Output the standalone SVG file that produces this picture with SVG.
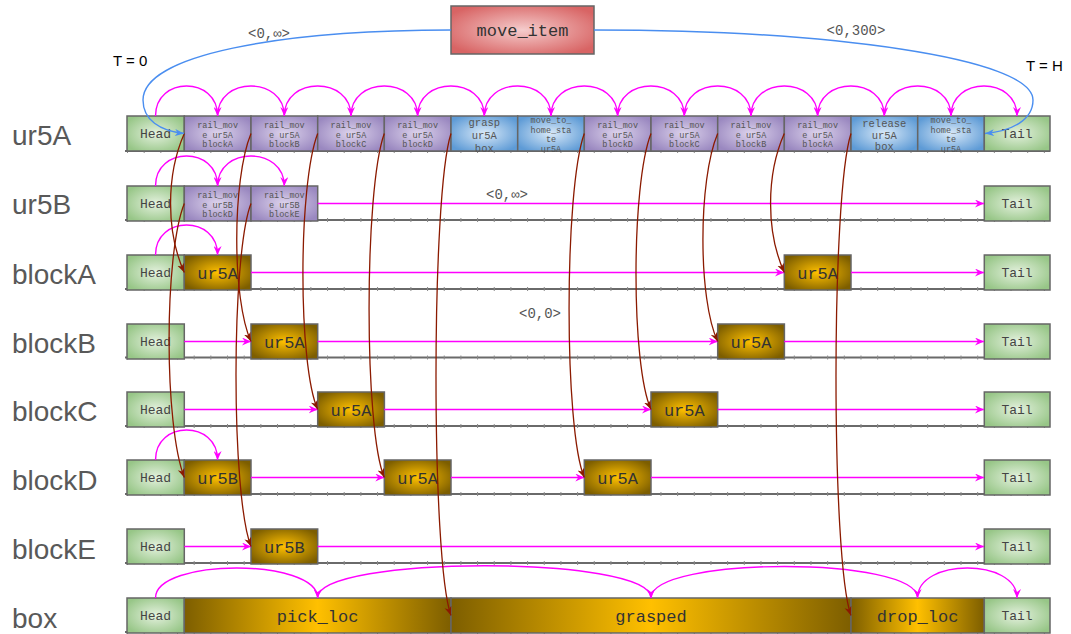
<svg xmlns="http://www.w3.org/2000/svg" width="1071" height="634" viewBox="0 0 1071 634">
<defs>
<radialGradient id="gGreen" cx="0.5" cy="0.5" r="0.6"><stop offset="0" stop-color="#e4f1de"/><stop offset="1" stop-color="#97c687"/></radialGradient>
<radialGradient id="gPurple" cx="0.5" cy="0.5" r="0.6"><stop offset="0" stop-color="#ddd3ec"/><stop offset="1" stop-color="#9a88c0"/></radialGradient>
<radialGradient id="gBlue" cx="0.5" cy="0.5" r="0.6"><stop offset="0" stop-color="#d9e9f8"/><stop offset="1" stop-color="#5e9bd6"/></radialGradient>
<radialGradient id="gGold" cx="0.5" cy="0.5" r="0.6"><stop offset="0" stop-color="#ffc000"/><stop offset="1" stop-color="#7d5e00"/></radialGradient>
<linearGradient id="gGoldH" x1="0" y1="0" x2="1" y2="0"><stop offset="0" stop-color="#7d5e00"/><stop offset="0.5" stop-color="#ffc000"/><stop offset="1" stop-color="#7d5e00"/></linearGradient>
<radialGradient id="gRed" cx="0.5" cy="0.5" r="0.6"><stop offset="0" stop-color="#f5cccc"/><stop offset="1" stop-color="#d86464"/></radialGradient>
<marker id="mM" markerUnits="userSpaceOnUse" markerWidth="10" markerHeight="8" refX="9" refY="4" orient="auto"><path d="M0,0 L9,4 L0,8 L3,4 z" fill="#ff00ff"/></marker>
<marker id="mB" markerUnits="userSpaceOnUse" markerWidth="10" markerHeight="8" refX="9" refY="4" orient="auto"><path d="M0,0.5 L9,4 L0,7.5 L2.5,4 z" fill="#8b1a00"/></marker>
<marker id="mL" markerUnits="userSpaceOnUse" markerWidth="10" markerHeight="8" refX="9" refY="4" orient="auto"><path d="M0,0.5 L9,4 L0,7.5 L2.5,4 z" fill="#4a8ef0"/></marker>
</defs>
<style>
.lbl{font-family:"Liberation Sans",Arial,sans-serif;font-size:28px;fill:#595959}
.t{font-family:"Liberation Sans",Arial,sans-serif;font-size:15px;fill:#000}
.mono{font-family:"Liberation Mono","DejaVu Sans Mono",monospace;text-anchor:middle}
.ht{font-size:13px;fill:#444}
.sm{font-size:8.5px;fill:#555}
.md{font-size:10.5px;fill:#555}
.gt{font-size:17px;fill:#333}
.cst{font-size:14px;fill:#555}
.box{stroke:#666;stroke-width:1.5}
.green{fill:url(#gGreen)}
.purple{fill:url(#gPurple)}
.blue{fill:url(#gBlue)}
.gold{fill:url(#gGold)}
.goldh{fill:url(#gGoldH)}
.axis{stroke:#6a6a6a;stroke-width:2}
.tick{stroke:#8a8a8a;stroke-width:4;stroke-dasharray:1 15.67}
.mag{fill:none;stroke:#ff00ff;stroke-width:1.4;marker-end:url(#mM)}
.brn{fill:none;stroke:#8b1a00;stroke-width:1.3;marker-end:url(#mB)}
.blu{fill:none;stroke:#4a8ef0;stroke-width:1.4;marker-end:url(#mL)}
</style>

<g id="labels">
<text class="lbl" x="12" y="145">ur5A</text>
<text class="lbl" x="12" y="214">ur5B</text>
<text class="lbl" x="12" y="284">blockA</text>
<text class="lbl" x="12" y="353">blockB</text>
<text class="lbl" x="12" y="421">blockC</text>
<text class="lbl" x="12" y="490">blockD</text>
<text class="lbl" x="12" y="559">blockE</text>
<text class="lbl" x="12" y="628">box</text>
<text class="t" x="113" y="66">T = 0</text>
<text class="t" x="1026" y="71">T = H</text>
</g>

<g id="axes">
<line class="axis" x1="125" y1="151" x2="1050" y2="151"/><line class="tick" x1="127" y1="151" x2="1050" y2="151"/>
<line class="axis" x1="125" y1="220" x2="1050" y2="220"/><line class="tick" x1="127" y1="220" x2="1050" y2="220"/>
<line class="axis" x1="125" y1="289" x2="1050" y2="289"/><line class="tick" x1="127" y1="289" x2="1050" y2="289"/>
<line class="axis" x1="125" y1="357.5" x2="1050" y2="357.5"/><line class="tick" x1="127" y1="357.5" x2="1050" y2="357.5"/>
<line class="axis" x1="125" y1="426" x2="1050" y2="426"/><line class="tick" x1="127" y1="426" x2="1050" y2="426"/>
<line class="axis" x1="125" y1="494" x2="1050" y2="494"/><line class="tick" x1="127" y1="494" x2="1050" y2="494"/>
<line class="axis" x1="125" y1="563" x2="1050" y2="563"/><line class="tick" x1="127" y1="563" x2="1050" y2="563"/>
<line class="axis" x1="125" y1="632" x2="1050" y2="632"/><line class="tick" x1="127" y1="632" x2="1050" y2="632"/>
</g>

<g id="move_item"><rect class="box" x="451" y="6" width="143" height="48" fill="url(#gRed)"/><text class="mono gt" x="522.5" y="36">move_item</text></g>

<g id="row-ur5A">
<g id="ur5A-head"><rect class="box green" x="127" y="116" width="57.3" height="35"/><text class="mono ht" x="155.5" y="138">Head</text></g>
<g id="ur5A-a1"><rect class="box purple" x="184.3" y="116" width="66.7" height="35"/><text class="mono sm" x="217.6" y="128">rail_mov</text><text class="mono sm" x="217.6" y="137.5">e ur5A</text><text class="mono sm" x="217.6" y="147">blockA</text></g>
<g id="ur5A-a2"><rect class="box purple" x="251" y="116" width="66.7" height="35"/><text class="mono sm" x="284.3" y="128">rail_mov</text><text class="mono sm" x="284.3" y="137.5">e ur5A</text><text class="mono sm" x="284.3" y="147">blockB</text></g>
<g id="ur5A-a3"><rect class="box purple" x="317.7" y="116" width="66.7" height="35"/><text class="mono sm" x="351" y="128">rail_mov</text><text class="mono sm" x="351" y="137.5">e ur5A</text><text class="mono sm" x="351" y="147">blockC</text></g>
<g id="ur5A-a4"><rect class="box purple" x="384.3" y="116" width="66.7" height="35"/><text class="mono sm" x="417.6" y="128">rail_mov</text><text class="mono sm" x="417.6" y="137.5">e ur5A</text><text class="mono sm" x="417.6" y="147">blockD</text></g>
<g id="ur5A-a5"><rect class="box blue" x="451" y="116" width="66.7" height="35"/><text class="mono md" x="484.3" y="126">grasp</text><text class="mono md" x="484.3" y="139">ur5A</text><text class="mono md" x="484.3" y="152">box</text></g>
<g id="ur5A-a6"><rect class="box blue" x="517.7" y="116" width="66.7" height="35"/><text class="mono sm" x="551" y="123">move_to_</text><text class="mono sm" x="551" y="133">home_sta</text><text class="mono sm" x="551" y="142">te</text><text class="mono sm" x="551" y="151.5">ur5A</text></g>
<g id="ur5A-a7"><rect class="box purple" x="584.3" y="116" width="66.7" height="35"/><text class="mono sm" x="617.6" y="128">rail_mov</text><text class="mono sm" x="617.6" y="137.5">e ur5A</text><text class="mono sm" x="617.6" y="147">blockD</text></g>
<g id="ur5A-a8"><rect class="box purple" x="651" y="116" width="66.7" height="35"/><text class="mono sm" x="684.3" y="128">rail_mov</text><text class="mono sm" x="684.3" y="137.5">e ur5A</text><text class="mono sm" x="684.3" y="147">blockC</text></g>
<g id="ur5A-a9"><rect class="box purple" x="717.7" y="116" width="66.7" height="35"/><text class="mono sm" x="751" y="128">rail_mov</text><text class="mono sm" x="751" y="137.5">e ur5A</text><text class="mono sm" x="751" y="147">blockB</text></g>
<g id="ur5A-a10"><rect class="box purple" x="784.3" y="116" width="66.7" height="35"/><text class="mono sm" x="817.6" y="128">rail_mov</text><text class="mono sm" x="817.6" y="137.5">e ur5A</text><text class="mono sm" x="817.6" y="147">blockA</text></g>
<g id="ur5A-a11"><rect class="box blue" x="851" y="116" width="66.7" height="35"/><text class="mono md" x="884.3" y="127">release</text><text class="mono md" x="884.3" y="139">ur5A</text><text class="mono md" x="884.3" y="150">box</text></g>
<g id="ur5A-a12"><rect class="box blue" x="917.7" y="116" width="66.7" height="35"/><text class="mono sm" x="951" y="123">move_to_</text><text class="mono sm" x="951" y="133">home_sta</text><text class="mono sm" x="951" y="142">te</text><text class="mono sm" x="951" y="151.5">ur5A</text></g>
<g id="ur5A-tail"><rect class="box green" x="984.3" y="116" width="65.7" height="35"/><text class="mono ht" x="1017" y="138">Tail</text></g>
</g>

<g id="row-ur5B">
<g id="ur5B-head"><rect class="box green" x="127" y="186" width="57.3" height="35"/><text class="mono ht" x="155.5" y="208">Head</text></g>
<g id="ur5B-a1"><rect class="box purple" x="184.3" y="186" width="66.7" height="35"/><text class="mono sm" x="217.6" y="198">rail_mov</text><text class="mono sm" x="217.6" y="207.5">e ur5B</text><text class="mono sm" x="217.6" y="217">blockD</text></g>
<g id="ur5B-a2"><rect class="box purple" x="251" y="186" width="66.7" height="35"/><text class="mono sm" x="284.3" y="198">rail_mov</text><text class="mono sm" x="284.3" y="207.5">e ur5B</text><text class="mono sm" x="284.3" y="217">blockE</text></g>
<g id="ur5B-tail"><rect class="box green" x="984.3" y="186" width="65.7" height="35"/><text class="mono ht" x="1017" y="208">Tail</text></g>
</g>

<g id="row-blockA">
<g id="blockA-head"><rect class="box green" x="127" y="255" width="57.3" height="35"/><text class="mono ht" x="155.5" y="277">Head</text></g>
<g id="blockA-s1"><rect class="box gold" x="184.3" y="255" width="66.7" height="35"/><text class="mono gt" x="217.6" y="278.5">ur5A</text></g>
<g id="blockA-s2"><rect class="box gold" x="784.3" y="255" width="66.7" height="35"/><text class="mono gt" x="817.6" y="278.5">ur5A</text></g>
<g id="blockA-tail"><rect class="box green" x="984.3" y="255" width="65.7" height="35"/><text class="mono ht" x="1017" y="277">Tail</text></g>
</g>

<g id="row-blockB">
<g id="blockB-head"><rect class="box green" x="127" y="324" width="57.3" height="35"/><text class="mono ht" x="155.5" y="346">Head</text></g>
<g id="blockB-s1"><rect class="box gold" x="251" y="324" width="66.7" height="35"/><text class="mono gt" x="284.3" y="347.5">ur5A</text></g>
<g id="blockB-s2"><rect class="box gold" x="717.7" y="324" width="66.7" height="35"/><text class="mono gt" x="751" y="347.5">ur5A</text></g>
<g id="blockB-tail"><rect class="box green" x="984.3" y="324" width="65.7" height="35"/><text class="mono ht" x="1017" y="346">Tail</text></g>
</g>

<g id="row-blockC">
<g id="blockC-head"><rect class="box green" x="127" y="392" width="57.3" height="35"/><text class="mono ht" x="155.5" y="414">Head</text></g>
<g id="blockC-s1"><rect class="box gold" x="317.7" y="392" width="66.7" height="35"/><text class="mono gt" x="351" y="415.5">ur5A</text></g>
<g id="blockC-s2"><rect class="box gold" x="651" y="392" width="66.7" height="35"/><text class="mono gt" x="684.3" y="415.5">ur5A</text></g>
<g id="blockC-tail"><rect class="box green" x="984.3" y="392" width="65.7" height="35"/><text class="mono ht" x="1017" y="414">Tail</text></g>
</g>

<g id="row-blockD">
<g id="blockD-head"><rect class="box green" x="127" y="460" width="57.3" height="35"/><text class="mono ht" x="155.5" y="482">Head</text></g>
<g id="blockD-s1"><rect class="box gold" x="184.3" y="460" width="66.7" height="35"/><text class="mono gt" x="217.6" y="483.5">ur5B</text></g>
<g id="blockD-s2"><rect class="box gold" x="384.3" y="460" width="66.7" height="35"/><text class="mono gt" x="417.6" y="483.5">ur5A</text></g>
<g id="blockD-s3"><rect class="box gold" x="584.3" y="460" width="66.7" height="35"/><text class="mono gt" x="617.6" y="483.5">ur5A</text></g>
<g id="blockD-tail"><rect class="box green" x="984.3" y="460" width="65.7" height="35"/><text class="mono ht" x="1017" y="482">Tail</text></g>
</g>

<g id="row-blockE">
<g id="blockE-head"><rect class="box green" x="127" y="529" width="57.3" height="35"/><text class="mono ht" x="155.5" y="551">Head</text></g>
<g id="blockE-s1"><rect class="box gold" x="251" y="529" width="66.7" height="35"/><text class="mono gt" x="284.3" y="552.5">ur5B</text></g>
<g id="blockE-tail"><rect class="box green" x="984.3" y="529" width="65.7" height="35"/><text class="mono ht" x="1017" y="551">Tail</text></g>
</g>

<g id="row-box">
<g id="box-head"><rect class="box green" x="127" y="598" width="57.3" height="35"/><text class="mono ht" x="155.5" y="620">Head</text></g>
<g id="box-pick"><rect class="box goldh" x="184.3" y="598" width="266.7" height="35"/><text class="mono gt" x="317.6" y="621.5">pick_loc</text></g>
<g id="box-grasped"><rect class="box goldh" x="451" y="598" width="400" height="35"/><text class="mono gt" x="651" y="621.5">grasped</text></g>
<g id="box-drop"><rect class="box goldh" x="851" y="598" width="133.3" height="35"/><text class="mono gt" x="917.6" y="621.5">drop_loc</text></g>
<g id="box-tail"><rect class="box green" x="984.3" y="598" width="65.7" height="35"/><text class="mono ht" x="1017" y="620">Tail</text></g>
</g>

<g id="connectors">
<g id="seq-arcs">
<path class="mag" d="M155.5,116 C155.5,76 217.6,76 217.6,116"/>
<path class="mag" d="M217.6,116 C217.6,76 284.3,76 284.3,116"/>
<path class="mag" d="M284.3,116 C284.3,76 351,76 351,116"/>
<path class="mag" d="M351,116 C351,76 417.6,76 417.6,116"/>
<path class="mag" d="M417.6,116 C417.6,76 484.3,76 484.3,116"/>
<path class="mag" d="M484.3,116 C484.3,76 551,76 551,116"/>
<path class="mag" d="M551,116 C551,76 617.6,76 617.6,116"/>
<path class="mag" d="M617.6,116 C617.6,76 684.3,76 684.3,116"/>
<path class="mag" d="M684.3,116 C684.3,76 751,76 751,116"/>
<path class="mag" d="M751,116 C751,76 817.6,76 817.6,116"/>
<path class="mag" d="M817.6,116 C817.6,76 884.3,76 884.3,116"/>
<path class="mag" d="M884.3,116 C884.3,76 951,76 951,116"/>
<path class="mag" d="M951,116 C951,76 1017,76 1017,116"/>
<path class="mag" d="M155.5,186 C155.5,146 217.6,146 217.6,186"/>
<path class="mag" d="M217.6,186 C217.6,146 284.3,146 284.3,186"/>
<path class="mag" d="M155.5,255 C155.5,215 217.6,215 217.6,255"/>
<path class="mag" d="M155.5,460 C155.5,420 217.6,420 217.6,460"/>
<path class="mag" d="M155.5,598 C155.5,558 317.6,558 317.6,598"/>
<path class="mag" d="M317.6,598 C317.6,555 651,555 651,598"/>
<path class="mag" d="M651,598 C651,556 917.6,556 917.6,598"/>
<path class="mag" d="M917.6,598 C917.6,558 1017,558 1017,598"/>
</g>
<g id="seq-lines">
<path class="mag" d="M317.7,203.5 H984"/>
<path class="mag" d="M251,272.5 H784"/>
<path class="mag" d="M851,272.5 H984"/>
<path class="mag" d="M184.3,341.5 H251"/>
<path class="mag" d="M317.7,341.5 H717.7"/>
<path class="mag" d="M784.3,341.5 H984"/>
<path class="mag" d="M184.3,409.5 H317.7"/>
<path class="mag" d="M384.3,409.5 H651"/>
<path class="mag" d="M717.7,409.5 H984"/>
<path class="mag" d="M251,477.5 H384.3"/>
<path class="mag" d="M451,477.5 H584.3"/>
<path class="mag" d="M651,477.5 H984"/>
<path class="mag" d="M184.3,546.5 H251"/>
<path class="mag" d="M317.7,546.5 H984"/>
</g>
<g id="deps">
<path class="brn" d="M184.3,133.5 C166,175 166,232 184.3,272.5"/>
<path class="brn" d="M251,133.5 C232,180 232,300 251,341.5"/>
<path class="brn" d="M317.7,133.5 C298,185 298,365 317.7,409.5"/>
<path class="brn" d="M384.3,133.5 C364,190 364,430 384.3,477.5"/>
<path class="brn" d="M451,133.5 C431,195 431,560 451,615.5"/>
<path class="brn" d="M584.3,133.5 C564,190 564,430 584.3,477.5"/>
<path class="brn" d="M651,133.5 C631,185 631,365 651,409.5"/>
<path class="brn" d="M717.7,133.5 C698,180 698,300 717.7,341.5"/>
<path class="brn" d="M784.3,133.5 C766,175 766,232 784.3,272.5"/>
<path class="brn" d="M851,133.5 C831,195 831,560 851,615.5"/>
<path class="brn" d="M184.3,203.5 C164,255 164,425 184.3,477.5"/>
<path class="brn" d="M251,203.5 C231,255 231,495 251,546.5"/>
</g>
<g id="window">
<path class="blu" d="M451,30 C280,30 143,55 143,100 C143,120 160,131 184,133.5"/>
<path class="blu" d="M594,30 C830,30 1033,58 1033,100 C1033,120 1012,131 985,133.5"/>
</g>
<g id="constraint-labels">
<text class="mono cst" x="269" y="38">&lt;0,∞&gt;</text>
<text class="mono cst" x="856" y="35">&lt;0,300&gt;</text>
<text class="mono cst" x="507" y="199">&lt;0,∞&gt;</text>
<text class="mono cst" x="540" y="318">&lt;0,0&gt;</text>
</g>
</g>
</svg>
